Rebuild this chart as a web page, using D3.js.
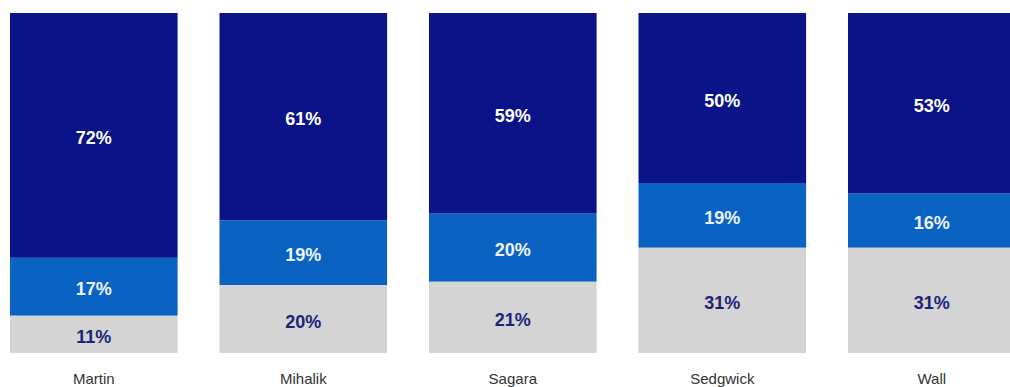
<!DOCTYPE html>
<html>
<head>
<meta charset="utf-8">
<script src="https://cdn.jsdelivr.net/npm/d3@7"></script>
<style>
  body { margin: 0; background: #fff; }
  svg { display: block; }
</style>
</head>
<body>
<svg id="chart" width="1010" height="387"></svg>
<script>
// data
var categories = ["Martin", "Mihalik", "Sagara", "Sedgwick", "Wall"];
var bottomVals = [11, 20, 21, 31, 31];   // grey
var middleVals = [17, 19, 20, 19, 16];   // mid blue
var topVals    = [72, 61, 59, 50, 53];   // navy

var series = [
    { key: "bottom", values: bottomVals, fill: "#d4d4d4", text: "#1d2478" },
    { key: "middle", values: middleVals, fill: "#0a63c3", text: "#eef4ff" },
    { key: "top",    values: topVals,    fill: "#0a1488", text: "#ffffff" }
];

var svg = d3.select("#chart");

var x = d3.scaleBand()
    .domain(categories)
    .range([10, 1015.6])
    .paddingInner(0.2)
    .paddingOuter(0);

var y = d3.scaleLinear()
    .domain([0, 100])
    .range([353, 13]);

// stack the three series per category
var rows = categories.map(function (c, i) {
    var r = { cat: c };
    series.forEach(function (s) { r[s.key] = s.values[i]; });
    return r;
});
var stacked = d3.stack().keys(series.map(function (s) { return s.key; }))(rows);

var layers = svg.selectAll("g.layer")
    .data(stacked)
    .enter().append("g")
    .attr("class", "layer");

layers.each(function (layer, li) {
    var g = d3.select(this);

    g.selectAll("rect")
        .data(layer)
        .enter().append("rect")
        .attr("x", function (d) { return x(d.data.cat); })
        .attr("y", function (d) { return y(d[1]); })
        .attr("width", x.bandwidth())
        .attr("height", function (d) { return y(d[0]) - y(d[1]); })
        .attr("fill", series[li].fill);

    // percentage labels, centred in each segment
    g.selectAll("text")
        .data(layer)
        .enter().append("text")
        .attr("x", function (d) { return x(d.data.cat) + x.bandwidth() / 2; })
        .attr("y", function (d) { return (y(d[0]) + y(d[1])) / 2 + 4; })
        .attr("text-anchor", "middle")
        .attr("dominant-baseline", "middle")
        .attr("font-family", "Liberation Sans, Arial, sans-serif")
        .attr("font-weight", "bold")
        .attr("font-size", 18)
        .attr("fill", series[li].text)
        .text(function (d) { return (d[1] - d[0]) + "%"; });
});

// category labels
var xAxis = svg.append("g")
    .attr("transform", "translate(0,353)")
    .call(d3.axisBottom(x).tickSize(0).tickPadding(20));
xAxis.select(".domain").remove();
xAxis.selectAll("text")
    .attr("font-family", "Liberation Sans, Arial, sans-serif")
    .attr("font-size", 15)
    .attr("fill", "#333");
</script>
</body>
</html>
